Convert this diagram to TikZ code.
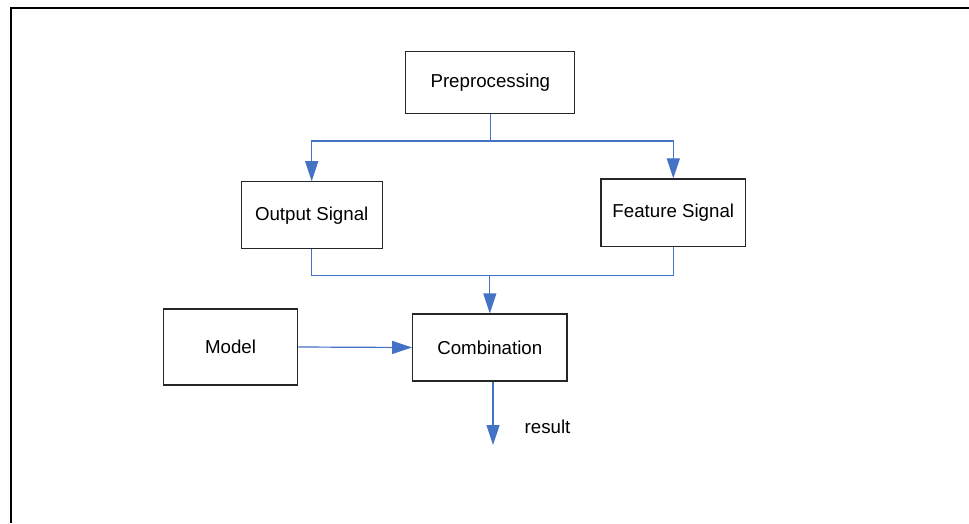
\documentclass[tikz,border=0pt]{standalone}
\usepackage{fontspec}
\setmainfont{Liberation Sans}
\usetikzlibrary{arrows.meta}
\definecolor{linkblue}{HTML}{4472C4}
\tikzset{
  block/.style={draw=black!85, line width=1.2pt, fill=white, inner sep=0pt,
    font=\fontsize{18.7}{22}\selectfont},
  link/.style={color=linkblue, line width=1.2pt},
  arrowlink/.style={link, -{Triangle[length=20pt,width=13pt]}},
}
\begin{document}
\begin{tikzpicture}[x=1pt, y=-1pt]
  \useasboundingbox (0,0) rectangle (969,523);
  % outer frame (open at right and bottom)
  \draw[line width=2.2pt] (11,523) -- (11,8) -- (969,8);

  \node[block, minimum width=169pt, minimum height=61.6pt] (pre) at (490.3,82.5) {Preprocessing};
  \node[block, minimum width=141pt, minimum height=67pt] (out) at (311.7,215.3) {Output Signal};
  \node[block, minimum width=144.7pt, minimum height=67.7pt] (feat) at (673.3,212.8) {Feature Signal};
  \node[block, minimum width=134.4pt, minimum height=76pt] (model) at (230.5,347) {Model};
  \node[block, minimum width=154.3pt, minimum height=67pt] (comb) at (489.8,347.5) {Combination};
  \node[font=\fontsize{18.7}{22}\selectfont] (res) at (547.5,427) {result};

  \coordinate (split) at (490.3,141);
  \coordinate (join) at (489.8,275.7);
  \coordinate (resend) at (493,445);

  % preprocessing fans out to both signals
  \draw[link] (pre.south) -- (split);
  \draw[arrowlink] (split) -| (out.north);
  \draw[arrowlink] (split) -| (feat.north);

  % both signals merge into the combination
  \draw[link] (out.south) |- (join) -| (feat.south);
  \draw[arrowlink] (join) -- (comb.north);

  % model feeds the combination
  \draw[arrowlink] (model.east) -- (comb.west);

  % result output
  \draw[arrowlink] (comb.south -| resend) -- (resend);
\end{tikzpicture}
\end{document}
